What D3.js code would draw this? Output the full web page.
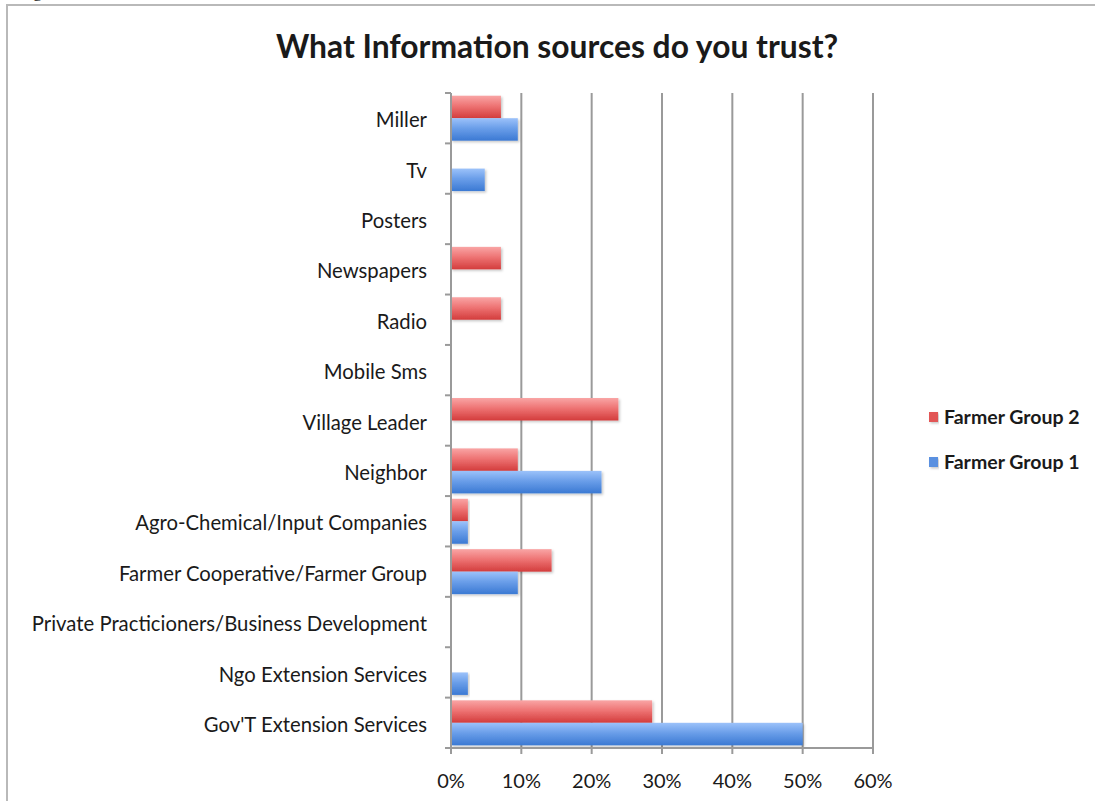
<!DOCTYPE html>
<html>
<head>
<meta charset="utf-8">
<script src="https://cdn.jsdelivr.net/npm/d3@7/dist/d3.min.js"></script>
<style>
  html, body { margin: 0; padding: 0; background: #fff; }
  svg { display: block; }
  text { font-family: Lato, "Open Sans", sans-serif; fill: #1a1a1a; }
</style>
</head>
<body>
<svg id="chart" width="1095" height="801"></svg>
<script>
// Trusted information sources, share of respondents per farmer group
const categories = [
  "Miller", "Tv", "Posters", "Newspapers", "Radio", "Mobile Sms",
  "Village Leader", "Neighbor", "Agro-Chemical/Input Companies",
  "Farmer Cooperative/Farmer Group",
  "Private Practicioners/Business Development",
  "Ngo Extension Services", "Gov'T Extension Services"
];
const seriesNames = ["Farmer Group 2", "Farmer Group 1"];
const group2 = [7.1, 0, 0, 7.1, 7.1, 0, 23.8, 9.5, 2.4, 14.3, 0, 0, 28.6];
const group1 = [9.5, 4.8, 0, 0, 0, 0, 0, 21.4, 2.4, 9.5, 0, 2.4, 50.0];
const xTicks = [0, 10, 20, 30, 40, 50, 60];
const title = "What Information sources do you trust?";

const svg = d3.select("#chart");
const W = 1095, H = 801;

const plot = { left: 451, right: 873, top: 93, bottom: 748 };

const x = d3.scaleLinear().domain([0, 60]).range([plot.left, plot.right]);
const y = d3.scaleBand().domain(categories).range([plot.top, plot.bottom]);
const ySub = d3.scaleBand().domain(seriesNames).range([0, y.bandwidth()])
  .paddingInner(0).paddingOuter(0.12);

const defs = svg.append("defs");
function gradient(id, stops) {
  const g = defs.append("linearGradient").attr("id", id)
    .attr("x1", 0).attr("y1", 0).attr("x2", 0).attr("y2", 1);
  stops.forEach(([o, c]) => g.append("stop").attr("offset", o).attr("stop-color", c));
}
gradient("gradRed", [[0, "#f9a5a5"], [0.45, "#ee7474"], [1, "#d33c3c"]]);
gradient("gradBlue", [[0, "#9cc2fa"], [0.45, "#6a9ee9"], [1, "#3b79d3"]]);
const shadow = defs.append("filter").attr("id", "shadow")
  .attr("x", "-5%").attr("y", "-20%").attr("width", "115%").attr("height", "160%");
shadow.append("feDropShadow").attr("dx", 1.5).attr("dy", 1.5)
  .attr("stdDeviation", 1.2).attr("flood-color", "#000").attr("flood-opacity", 0.22);

const fills = { "Farmer Group 2": "url(#gradRed)", "Farmer Group 1": "url(#gradBlue)" };
const swatch = { "Farmer Group 2": "#e25757", "Farmer Group 1": "#5a90e0" };

// outer frame (top and left edges visible), caption above it
svg.append("text").attr("x", 18).attr("y", -3)
  .style("font-family", "'Liberation Serif', serif").style("font-size", "18px")
  .text("Figure");
svg.append("path").attr("d", `M7,${H} V5 H${W}`)
  .attr("fill", "none").attr("stroke", "#b9b9b9").attr("stroke-width", 2);

// title
svg.append("text").attr("x", 557).attr("y", 58).attr("text-anchor", "middle")
  .style("font-size", "31.8px").style("font-weight", 700).text(title);

// vertical gridlines
svg.append("g").selectAll("line").data(xTicks.filter(d => d > 0)).join("line")
  .attr("x1", d => x(d)).attr("x2", d => x(d))
  .attr("y1", plot.top).attr("y2", plot.bottom)
  .attr("stroke", "#9a9a9a").attr("stroke-width", 2);

// bars
const rows = categories.map((c, i) => ({ c, vals: [
  { s: "Farmer Group 2", v: group2[i] },
  { s: "Farmer Group 1", v: group1[i] }
] }));
svg.append("g").selectAll("g").data(rows).join("g")
  .attr("transform", d => `translate(0,${y(d.c)})`)
  .selectAll("rect").data(d => d.vals.filter(e => e.v > 0)).join("rect")
  .attr("x", x(0))
  .attr("y", d => ySub(d.s))
  .attr("width", d => x(d.v) - x(0))
  .attr("height", ySub.bandwidth())
  .attr("fill", d => fills[d.s])
  .attr("filter", "url(#shadow)");

// y axis
const yAxis = svg.append("g").attr("transform", `translate(${x(0)},0)`);
yAxis.append("line").attr("y1", plot.top).attr("y2", plot.bottom + 4)
  .attr("stroke", "#9a9a9a").attr("stroke-width", 2);
yAxis.selectAll("line.tk").data(d3.range(categories.length + 1)).join("line")
  .attr("class", "tk")
  .attr("x1", -6).attr("x2", 0)
  .attr("y1", i => plot.top + i * y.step()).attr("y2", i => plot.top + i * y.step())
  .attr("stroke", "#9a9a9a").attr("stroke-width", 2);
yAxis.selectAll("text").data(categories).join("text")
  .attr("x", -24).attr("y", d => y(d) + y.bandwidth() / 2 + 2)
  .attr("dy", "0.35em").attr("text-anchor", "end")
  .style("font-size", "20.3px").text(d => d);

// x axis
const xAxis = svg.append("g");
xAxis.append("line").attr("x1", plot.left - 1).attr("x2", plot.right + 1)
  .attr("y1", plot.bottom).attr("y2", plot.bottom)
  .attr("stroke", "#9a9a9a").attr("stroke-width", 2);
xAxis.selectAll("line.tk").data(xTicks).join("line").attr("class", "tk")
  .attr("x1", d => x(d)).attr("x2", d => x(d))
  .attr("y1", plot.bottom).attr("y2", plot.bottom + 6)
  .attr("stroke", "#9a9a9a").attr("stroke-width", 2);
xAxis.selectAll("text").data(xTicks).join("text")
  .attr("x", d => x(d)).attr("y", 788).attr("text-anchor", "middle")
  .style("font-size", "20px").text(d => d + "%");

// legend
const legend = svg.append("g");
seriesNames.forEach((s, i) => {
  const ly = 412 + i * 45;
  legend.append("rect").attr("x", 929).attr("y", ly).attr("width", 9).attr("height", 10)
    .attr("fill", swatch[s]).attr("filter", "url(#shadow)");
  legend.append("text").attr("x", 944).attr("y", ly + 12)
    .style("font-size", "19.5px").style("font-weight", 700).text(s);
});
</script>
</body>
</html>
